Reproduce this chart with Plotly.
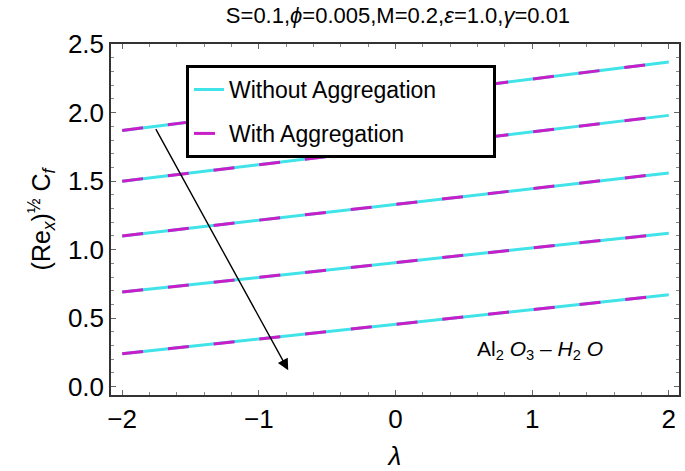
import plotly.graph_objects as go

# lambda end points of each curve
lam = [-2, 2]

# skin friction (Re_x)^(1/2) Cf, top curve first
without_agg = [
    [1.87, 2.37],
    [1.50, 1.98],
    [1.10, 1.56],
    [0.69, 1.12],
    [0.24, 0.67],
]
with_agg = [
    [1.87, 2.37],
    [1.50, 1.98],
    [1.10, 1.56],
    [0.69, 1.12],
    [0.24, 0.67],
]

x_ticks = [-2, -1, 0, 1, 2]
y_ticks = [0.0, 0.5, 1.0, 1.5, 2.0, 2.5]

CYAN = "#3fe3e8"
MAGENTA = "#c81ec8"
FONT = "Liberation Sans, Arial, sans-serif"
PAD = "\u00a0" * 8  # widen the legend box a bit

fig = go.Figure()

for i, ys in enumerate(without_agg):
    fig.add_trace(go.Scatter(
        x=lam, y=ys, mode="lines",
        line=dict(color=CYAN, width=3),
        name="Without Aggregation" + PAD, legendgroup="a",
        showlegend=(i == 0),
    ))

for i, ys in enumerate(with_agg):
    fig.add_trace(go.Scatter(
        x=lam, y=ys, mode="lines",
        line=dict(color=MAGENTA, width=3, dash="21px,25px"),
        name="With Aggregation", legendgroup="b",
        showlegend=(i == 0),
    ))

# arrow showing direction of increasing parameter
fig.add_annotation(
    x=-0.785, y=0.12, ax=-1.76, ay=1.89,
    xref="x", yref="y", axref="x", ayref="y",
    showarrow=True, arrowhead=2, arrowsize=1.6, arrowwidth=1.4,
    arrowcolor="black", text="",
)

fig.add_annotation(
    x=1.06, y=0.27, xref="x", yref="y", showarrow=False,
    text="Al<sub>2</sub> <i>O</i><sub>3</sub> \u2013 <i>H</i><sub>2</sub> <i>O</i>",
    font=dict(family=FONT, size=21, color="black"),
)

fig.update_layout(
    width=685, height=471,
    margin=dict(l=111, r=4, t=44, b=76),
    paper_bgcolor="white", plot_bgcolor="white",
    font=dict(family=FONT, color="black"),
    title=dict(
        text="S=0.1,<i>\u03d5</i>=0.005,M=0.2,<i>\u03b5</i>=1.0,<i>\u03b3</i>=0.01",
        x=0.581, xanchor="center", y=0.968, yanchor="middle",
        font=dict(family=FONT, size=22, color="black"),
    ),
    legend=dict(
        x=0.132, y=0.94, xanchor="left", yanchor="top",
        bgcolor="white", bordercolor="black", borderwidth=3,
        font=dict(family=FONT, size=23, color="black"),
        traceorder="grouped", tracegroupgap=11,
    ),
)

fig.update_xaxes(
    range=[-2.082, 2.075], tickvals=x_ticks, ticktext=["\u22122", "\u22121", "0", "1", "2"],
    showgrid=False, zeroline=False,
    showline=True, linecolor="#333", linewidth=1.5, mirror="allticks",
    ticks="inside", ticklen=5, tickcolor="#666",
    minor=dict(dtick=0.2, ticks="inside", ticklen=3, tickcolor="#888"),
    tickfont=dict(size=26),
    title=dict(text="<i>\u03bb</i>", font=dict(size=26), standoff=14),
)
fig.update_yaxes(
    range=[-0.061, 2.501], tickvals=y_ticks, tickformat=".1f",
    showgrid=False, zeroline=False,
    showline=True, linecolor="#333", linewidth=1.5, mirror="allticks",
    ticks="inside", ticklen=5, tickcolor="#666",
    minor=dict(dtick=0.1, ticks="inside", ticklen=3, tickcolor="#888"),
    tickfont=dict(size=26),
    title=dict(text="(Re<sub><i>x</i></sub>)<sup>\u00bd</sup> C<sub><i>f</i></sub>",
               font=dict(size=25), standoff=10),
)

# drop the browser's default body margin so the figure sits at (0, 0)
fig.write_html("out.html", config={"displayModeBar": False},
               post_script="document.body.style.margin='0';")
